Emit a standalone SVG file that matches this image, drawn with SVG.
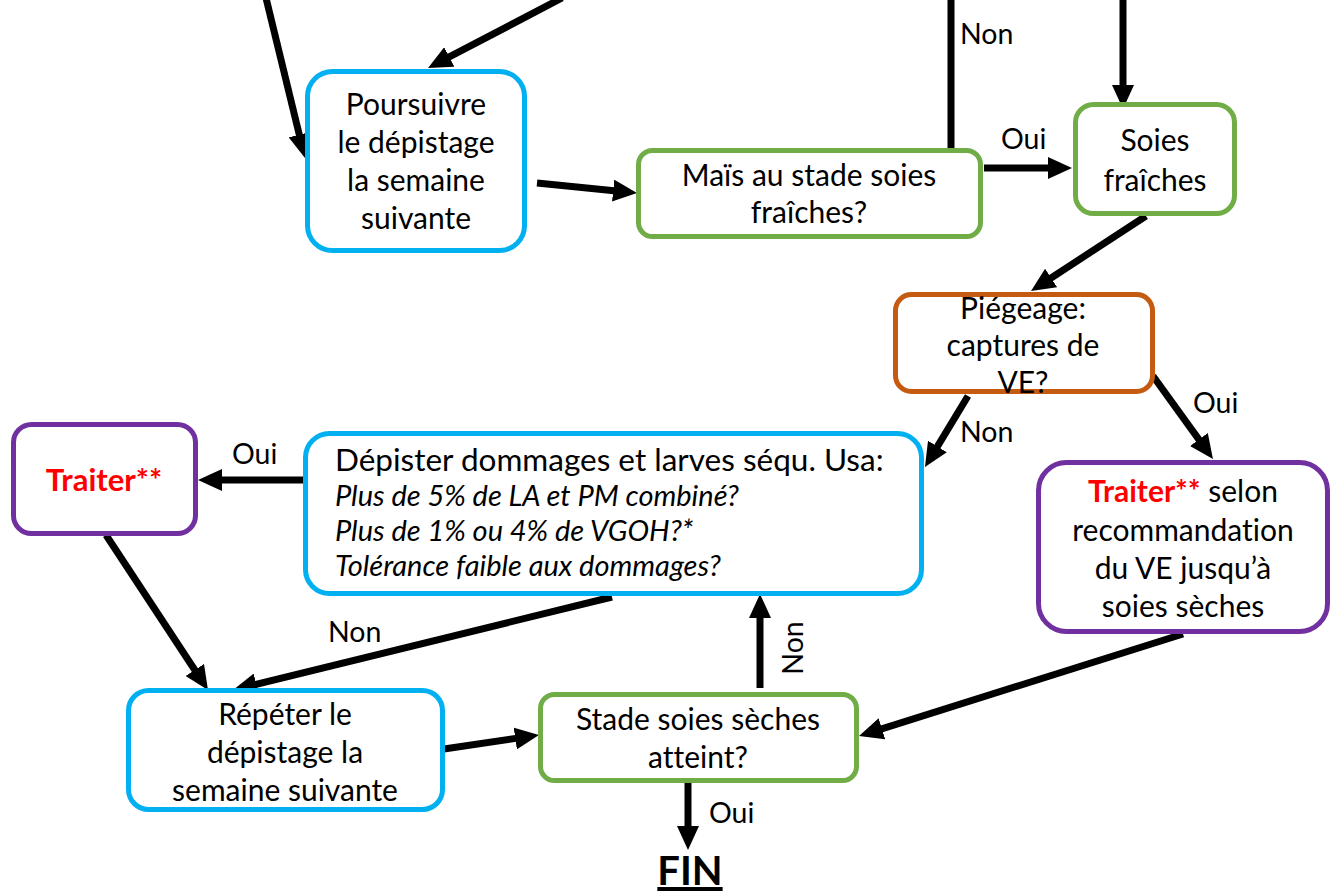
<svg xmlns="http://www.w3.org/2000/svg" width="1332" height="896" viewBox="0 0 1332 896">
<defs>
<style>
.box{fill:#fff;stroke-width:5}
.blue{stroke:#00B0F0}.green{stroke:#70AD47}.orange{stroke:#C55A11}.purple{stroke:#7030A0}
text{font-family:Lato,"Open Sans","Liberation Sans",sans-serif;font-size:30px;fill:#000;font-variant-ligatures:none;font-feature-settings:"liga" 0,"dlig" 0}
.c{text-anchor:middle}
.it{font-style:italic;font-size:29px}
.red{fill:#FF0000;font-weight:bold}
.lbl{font-size:28.5px}
.con{stroke:#000;stroke-width:7;fill:none}
.arr{marker-end:url(#ah)}
</style>
<marker id="ah" markerUnits="userSpaceOnUse" markerWidth="24" markerHeight="22" viewBox="0 0 24 22" refX="6" refY="11" orient="auto">
<path d="M0,0 L24,11 L0,22 z" fill="#000"/>
</marker>
</defs>
<rect width="1332" height="896" fill="#fff"/>
<g id="connectors">
<path class="con arr" d="M266,-2 L300.7,140.5"/>
<path class="con arr" d="M562,-2 L444,59.7"/>
<path class="con arr" d="M537,183 L619.1,191.2"/>
<path class="con" d="M951,-2 V150"/>
<path class="con arr" d="M984,168 H1054"/>
<path class="con arr" d="M1123,-2 V91"/>
<path class="con arr" d="M1146,216 L1046.1,281.2"/>
<path class="con arr" d="M968,396 L934.3,451.6"/>
<path class="con arr" d="M1153,376 L1202.4,444.4"/>
<path class="con arr" d="M305,480 H216"/>
<path class="con arr" d="M106,535 L198.1,675"/>
<path class="con arr" d="M612,597 L250.5,685.7"/>
<path class="con arr" d="M760,688 V612"/>
<path class="con arr" d="M444,749 L521.2,737.6"/>
<path class="con arr" d="M1183,634 L876.2,730.6"/>
<path class="con arr" d="M688,783 V832"/>
<text class="lbl" x="960" y="44">Non</text>
<text class="lbl" x="1001" y="149">Oui</text>
<text class="lbl" x="960" y="442">Non</text>
<text class="lbl" x="1193" y="413">Oui</text>
<text class="lbl" x="232" y="464">Oui</text>
<text class="lbl" x="328" y="642">Non</text>
<text class="lbl" x="709" y="823">Oui</text>
<text class="lbl c" transform="translate(803,648) rotate(-90)">Non</text>
</g>
<g id="n-poursuivre">
<rect class="box blue" x="307.5" y="71.5" width="217" height="179" rx="25"/>
<text class="c" x="416" y="115">Poursuivre</text>
<text class="c" x="416" y="153">le dépistage</text>
<text class="c" x="416" y="191">la semaine</text>
<text class="c" x="416" y="229">suivante</text>
</g>
<g id="n-mais">
<rect class="box green" x="638.5" y="150.5" width="342" height="86" rx="14"/>
<text class="c" x="809" y="186">Maïs au stade soies</text>
<text class="c" x="809" y="223">fraîches?</text>
</g>
<g id="n-soies">
<rect class="box green" x="1075.5" y="104.5" width="159" height="109" rx="18"/>
<text class="c" x="1155" y="151">Soies</text>
<text class="c" x="1155" y="191">fraîches</text>
</g>
<g id="n-piegeage">
<rect class="box orange" x="895.5" y="294.5" width="257" height="97" rx="16"/>
<text class="c" x="1023" y="319">Piégeage:</text>
<text class="c" x="1023" y="356">captures de</text>
<text class="c" x="1023" y="393">VE?</text>
</g>
<g id="n-depister">
<rect class="box blue" x="305.5" y="433.5" width="616" height="160" rx="24"/>
<text x="335" y="471" style="font-size:31.5px">Dépister dommages et larves séqu. Usa:</text>
<text class="it" x="335" y="506">Plus de 5% de LA et PM combiné?</text>
<text class="it" x="335" y="541">Plus de 1% ou 4% de VGOH?*</text>
<text class="it" x="335" y="576">Tolérance faible aux dommages?</text>
</g>
<g id="n-traiter1">
<rect class="box purple" x="13.5" y="424.5" width="182" height="109" rx="18"/>
<text class="c red" x="104" y="491" style="font-size:31px">Traiter**</text>
</g>
<g id="n-traiter2">
<rect class="box purple" x="1038.5" y="462.5" width="289" height="169" rx="28"/>
<text class="c" x="1183" y="502"><tspan class="red">Traiter**</tspan> selon</text>
<text class="c" x="1183" y="541">recommandation</text>
<text class="c" x="1183" y="579">du VE jusqu’à</text>
<text class="c" x="1183" y="617">soies sèches</text>
</g>
<g id="n-repeter">
<rect class="box blue" x="128.5" y="690.5" width="314" height="119" rx="20"/>
<text class="c" x="285" y="725">Répéter le</text>
<text class="c" x="285" y="763">dépistage la</text>
<text class="c" x="285" y="801">semaine suivante</text>
</g>
<g id="n-stade">
<rect class="box green" x="540.5" y="694.5" width="316" height="86" rx="14"/>
<text class="c" x="698" y="730">Stade soies sèches</text>
<text class="c" x="698" y="768">atteint?</text>
</g>
<g id="n-fin">
<text class="c" x="690" y="885" style="font-size:40px;font-weight:bold;text-decoration:underline">FIN</text>
</g>
</svg>
